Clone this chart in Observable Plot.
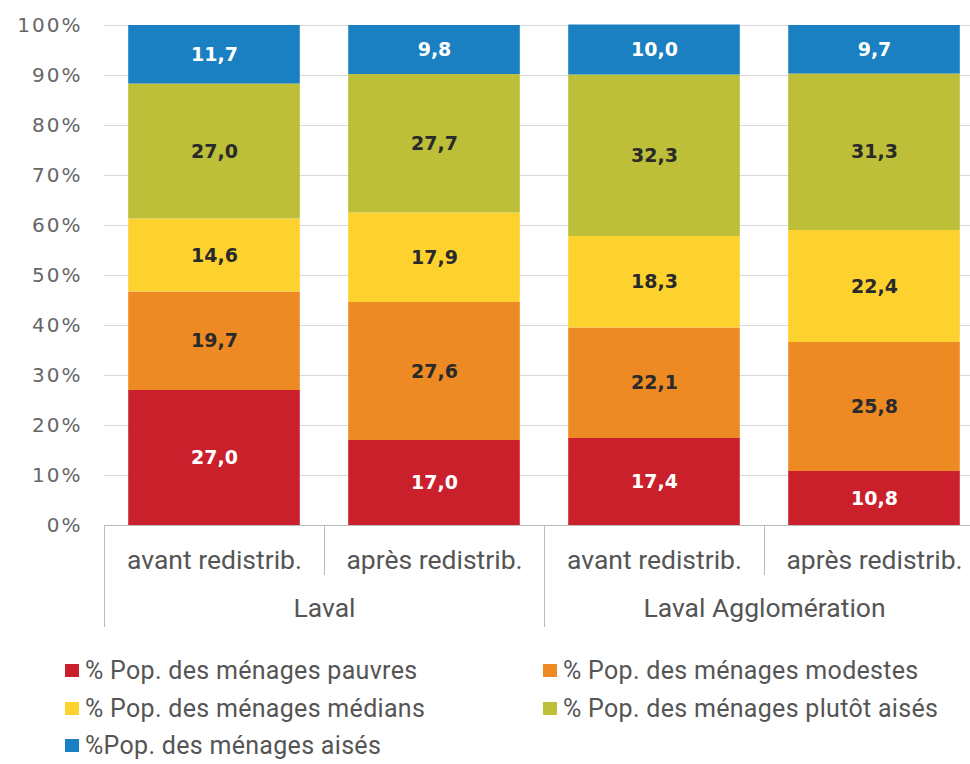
<!DOCTYPE html>
<html><head><meta charset="utf-8">
<script src="https://cdn.jsdelivr.net/npm/d3@7"></script>
<script src="https://cdn.jsdelivr.net/npm/@observablehq/plot@0.6"></script>
<style>
body{margin:0;background:#fff;font-family:Roboto,sans-serif;width:970px;height:764px;overflow:hidden;position:relative;}
#legend{position:absolute;left:0;top:0;width:970px;color:#555;font-size:25px;letter-spacing:0.3px;}
.li{position:absolute;display:flex;align-items:center;white-space:nowrap;height:30px;}
.sw{width:14px;height:13px;margin-right:6px;display:inline-block;flex:none;}
g[aria-label="valeurs"] text{letter-spacing:1.2px;}
g[aria-label="y-axis tick label"] text{letter-spacing:2px;}
</style></head><body><div id="chart"></div><div id="legend"></div>
<script>
const groups = ["Laval", "Laval Agglomération"];
const phases = ["avant redistrib.", "après redistrib."];
const seriesNames = [
  "% Pop. des ménages pauvres",
  "% Pop. des ménages modestes",
  "% Pop. des ménages médians",
  "% Pop. des ménages plutôt aisés",
  "%Pop. des ménages aisés"
];
const seriesColors = ["#c9202c", "#ee8a24", "#fdd22e", "#bcbf37", "#1a80c2"];
const pauvres     = [27.0, 17.0, 17.4, 10.8];
const modestes    = [19.7, 27.6, 22.1, 25.8];
const medians     = [14.6, 17.9, 18.3, 22.4];
const plutotAises = [27.0, 27.7, 32.3, 31.3];
const aises       = [11.7,  9.8, 10.0,  9.7];
const yTicks = [0, 10, 20, 30, 40, 50, 60, 70, 80, 90, 100];

const seriesValues = [pauvres, modestes, medians, plutotAises, aises];
const columns = [];
groups.forEach((g, gi) => phases.forEach((p, pi) => columns.push({i: gi * 2 + pi, group: g, phase: p})));
const rows = [];
columns.forEach(c => seriesNames.forEach((s, si) => rows.push({i: c.i, series: s, si, value: seriesValues[si][c.i]})));
const groupRows = groups.map(g => ({group: g, x: d3.mean(columns.filter(c => c.group === g), c => c.i)}));
const subSeps = columns.filter(c => c.i % 2 === 1).map(c => c.i - 0.5);
const groupSeps = columns.filter(c => c.i % 2 === 0).map(c => c.i - 0.5);
const fmt = v => v.toFixed(1).replace(".", ",");
const half = 0.39;
const light = new Set([seriesNames[0], seriesNames[4]]);
const valueFont = "'DejaVu Sans', sans-serif";

const chart = Plot.plot({
  width: 970,
  height: 640,
  marginTop: 25,
  marginBottom: 115,
  marginLeft: 104,
  marginRight: 0,
  style: {fontFamily: "Roboto, sans-serif", background: "#fff"},
  x: {type: "linear", domain: [-0.5, 3.5], range: [104, 984], axis: null},
  y: {domain: [0, 100], axis: null},
  color: {domain: seriesNames, range: seriesColors},
  marks: [
    Plot.gridY(yTicks, {stroke: "#d9d9d9", strokeOpacity: 1}),
    Plot.axisY(yTicks, {tickSize: 0, tickPadding: 22, tickFormat: d => d + "%", fontSize: 20, fontFamily: valueFont, fill: "#666", label: null}),
    Plot.rectY(rows, {x1: d => d.i - half, x2: d => d.i + half, y: "value", fill: "series"}),
    Plot.text(rows, Plot.stackY({x: "i", y: "value", z: "series", text: d => light.has(d.series) ? fmt(d.value) : "", fill: "white", fontWeight: "bold", fontSize: 19, fontFamily: valueFont, ariaLabel: "valeurs"})),
    Plot.text(rows, Plot.stackY({x: "i", y: "value", z: "series", text: d => light.has(d.series) ? "" : fmt(d.value), fill: "#2a2a2a", fontWeight: "bold", fontSize: 19, fontFamily: valueFont, ariaLabel: "valeurs"})),
    Plot.ruleY([0], {stroke: "#bbb"}),
    Plot.ruleX(subSeps, {y1: 0, y2: -10, stroke: "#bbb"}),
    Plot.ruleX(groupSeps, {y1: 0, y2: -20.4, stroke: "#bbb"}),
    Plot.text(columns, {x: "i", y: 0, dy: 35, text: "phase", fontSize: 26.5, fill: "#555"}),
    Plot.text(groupRows, {x: "x", y: 0, dy: 83, text: "group", fontSize: 26.5, fill: "#555"})
  ]
});
document.getElementById("chart").appendChild(chart);

const legend = document.getElementById("legend");
const legendPos = [[65, 655], [543, 655], [65, 693], [543, 693], [65, 730]];
seriesNames.forEach((s, si) => {
  const el = document.createElement("div");
  el.className = "li";
  el.style.left = legendPos[si][0] + "px";
  el.style.top = legendPos[si][1] + "px";
  el.innerHTML = `<span class="sw" style="background:${seriesColors[si]}"></span><span>${s}</span>`;
  legend.appendChild(el);
});
</script></body></html>
